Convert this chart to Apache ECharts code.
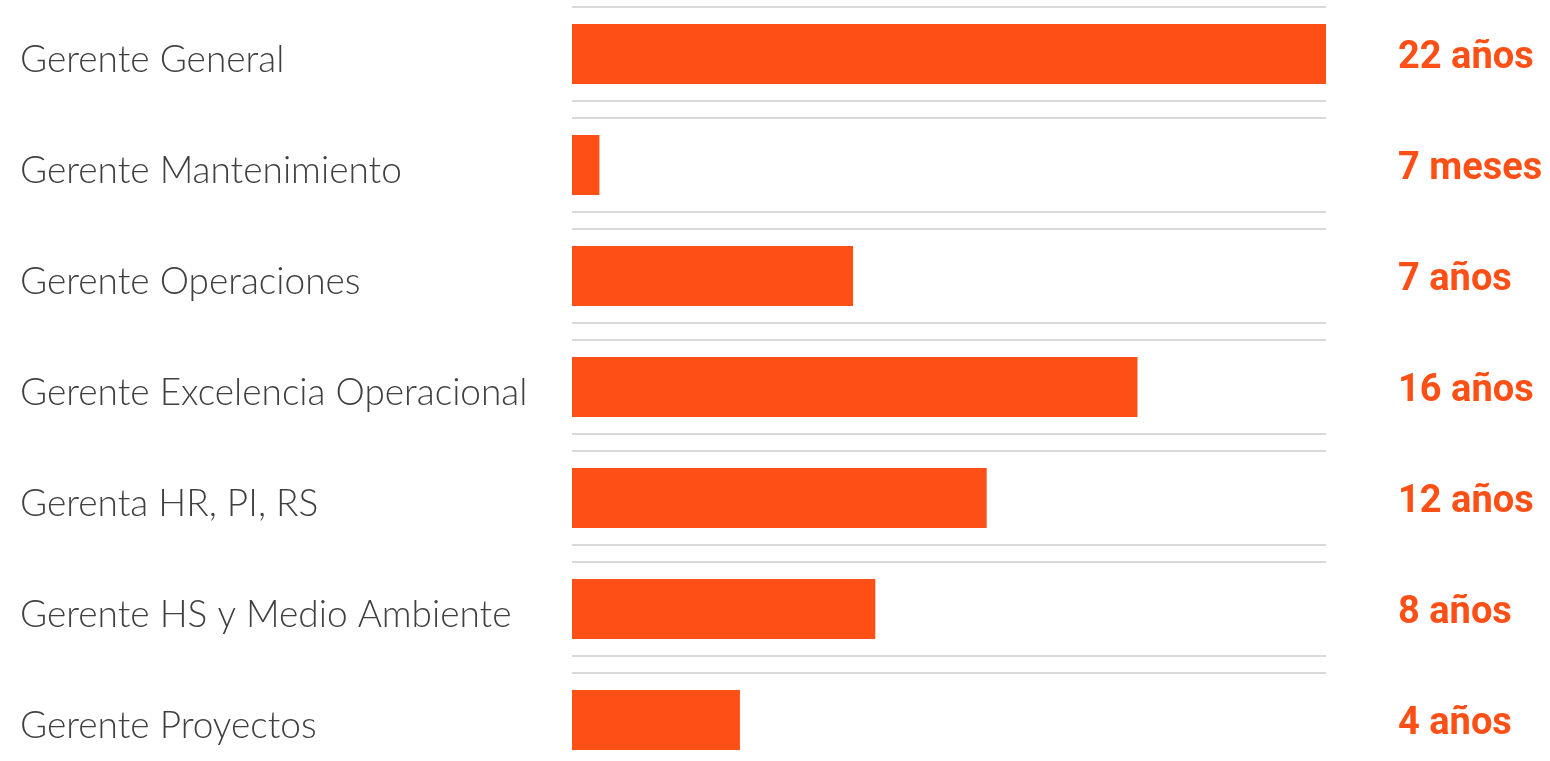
<!DOCTYPE html>
<html>
<head>
<meta charset="utf-8">
<script src="https://cdn.jsdelivr.net/npm/echarts@6/dist/echarts.min.js"></script>
<style>
html,body{margin:0;padding:0;background:#fff;}
#chart{width:1550px;height:761px;}
</style>
</head>
<body>
<div id="chart"></div>
<script>
var categories = ['Gerente General','Gerente Mantenimiento','Gerente Operaciones','Gerente Excelencia Operacional','Gerenta HR, PI, RS','Gerente HS y Medio Ambiente','Gerente Proyectos'];
var barValues = [22, 0.8, 8.2, 16.5, 12.1, 8.85, 4.9];
var valueLabels = ['22 años','7 meses','7 años','16 años','12 años','8 años','4 años'];
var axisMax = 22;

var ORANGE = '#FE5016';
var chart = echarts.init(document.getElementById('chart'));
chart.setOption({
  animation: false,
  grid: {left: 572, width: 754, top: 54, height: 666},
  xAxis: {type: 'value', min: 0, max: axisMax, show: false},
  yAxis: [
    {type: 'category', data: categories, inverse: true, boundaryGap: false,
     axisLine: {show: false}, axisTick: {show: false}, splitLine: {show: false},
     axisLabel: {align: 'left', verticalAlign: 'top', lineHeight: 12, margin: 552, fontFamily: 'Lato', fontWeight: 300, fontSize: 37, color: '#404040'}},
    {type: 'category', data: valueLabels, inverse: true, boundaryGap: false, position: 'right',
     axisLine: {show: false}, axisTick: {show: false}, splitLine: {show: false},
     axisLabel: {align: 'left', verticalAlign: 'top', lineHeight: 8, margin: 72, fontFamily: 'Roboto', fontWeight: 'bold', fontSize: 38, color: ORANGE}}
  ],
  series: [
    {type: 'custom', yAxisIndex: 0, silent: true, clip: false,
     data: categories.map(function(c, i){ return [i]; }),
     renderItem: function(params, api){
       var idx = api.value(0);
       var p0 = api.coord([0, idx]);
       var p1 = api.coord([axisMax, idx]);
       var off = 47;
       var st = {stroke: '#d9d9d9', lineWidth: 2};
       return {type: 'group', children: [
         {type: 'line', shape: {x1: p0[0], y1: p0[1]-off, x2: p1[0], y2: p1[1]-off}, style: st},
         {type: 'line', shape: {x1: p0[0], y1: p0[1]+off, x2: p1[0], y2: p1[1]+off}, style: st}
       ]};
     }},
    {type: 'bar', yAxisIndex: 0, data: barValues, barWidth: 60,
     itemStyle: {color: ORANGE}, silent: true}
  ]
});
</script>
</body>
</html>
